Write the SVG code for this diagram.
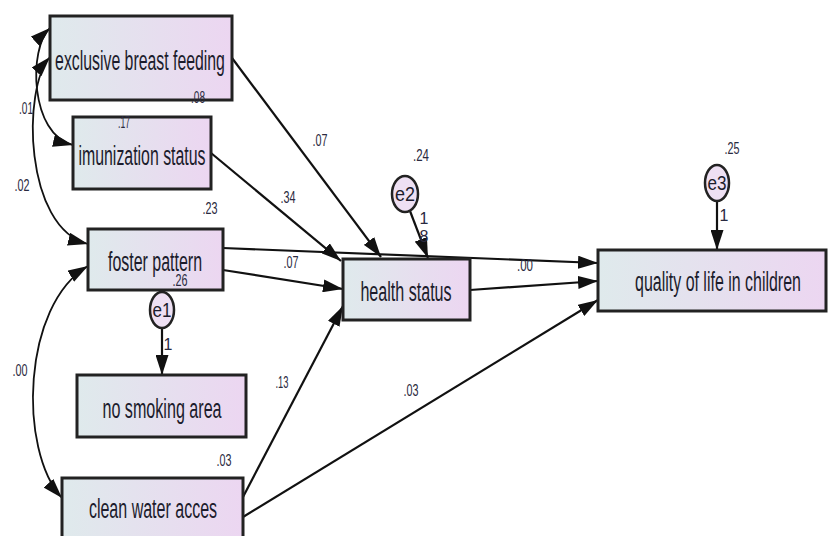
<svg xmlns="http://www.w3.org/2000/svg" width="829" height="536" viewBox="0 0 829 536">
  <defs>
    <linearGradient id="boxFill" x1="0" y1="0" x2="1" y2="0">
      <stop offset="0" stop-color="#dfeaec"/>
      <stop offset="1" stop-color="#ecd6f1"/>
    </linearGradient>
    <marker id="head" viewBox="0 0 20 13" markerWidth="20" markerHeight="13" refX="20" refY="6.5" orient="auto-start-reverse" markerUnits="userSpaceOnUse">
      <path d="M0,0 L20,6.5 L0,13 z" fill="#111"/>
    </marker>
    <style>
      .box { fill: url(#boxFill); stroke: #222; stroke-width: 3; }
      .err { fill: #eee0f3; stroke: #222; stroke-width: 2.5; }
      .lbl { font-family: "Liberation Sans", Arial, sans-serif; font-size: 28px; fill: #1c1c2c; text-anchor: middle; }
      .elbl { font-family: "Liberation Sans", Arial, sans-serif; font-size: 21px; fill: #1c1c2c; text-anchor: middle; }
      .num { font-family: "Liberation Sans", Arial, sans-serif; font-size: 16px; fill: #2a2a40; text-anchor: middle; }
      .edge { fill: none; stroke: #111; stroke-width: 2.2; }
      .cov { fill: none; stroke: #111; stroke-width: 1.8; }
    </style>
  </defs>

  <rect width="829" height="536" fill="#ffffff"/>

  <!-- connectors -->
  <g id="connectors">
    <!-- covariances -->
    <path class="cov" d="M50,28 C28,48 30,135 73,145" marker-start="url(#head)" marker-end="url(#head)"/>
    <path class="cov" d="M50,57 C22,88 24,228 88,244" marker-start="url(#head)" marker-end="url(#head)"/>
    <path class="cov" d="M88,266 C22,305 18,450 62,498" marker-start="url(#head)" marker-end="url(#head)"/>
    <!-- regression paths -->
    <path class="edge" d="M232,58 L381,257" marker-end="url(#head)"/>
    <path class="edge" d="M211,153 L341,261" marker-end="url(#head)"/>
    <path class="edge" d="M223,248 L598,263" marker-end="url(#head)"/>
    <path class="edge" d="M223,270 L343,289" marker-end="url(#head)"/>
    <path class="edge" d="M243,497 L343,306" marker-end="url(#head)"/>
    <path class="edge" d="M243,517 L598,300" marker-end="url(#head)"/>
    <path class="edge" d="M470,290 L598,281" marker-end="url(#head)"/>
    <!-- error terms -->
    <path class="edge" d="M162,328 L162,375" marker-end="url(#head)"/>
    <path class="edge" d="M410,211 L428,258" marker-end="url(#head)"/>
    <path class="edge" d="M717,201 L717,250" marker-end="url(#head)"/>
  </g>

  <!-- path coefficients -->
  <g id="coefficients">
    <text class="num" x="26" y="114" textLength="14" lengthAdjust="spacingAndGlyphs">.01</text>
    <text class="num" x="22" y="191" textLength="15" lengthAdjust="spacingAndGlyphs">.02</text>
    <text class="num" x="20" y="376" textLength="15" lengthAdjust="spacingAndGlyphs">.00</text>
    <text class="num" x="320" y="146" textLength="15" lengthAdjust="spacingAndGlyphs">.07</text>
    <text class="num" x="288" y="203" textLength="15" lengthAdjust="spacingAndGlyphs">.34</text>
    <text class="num" x="291" y="268" textLength="15" lengthAdjust="spacingAndGlyphs">.07</text>
    <text class="num" x="525" y="271" textLength="16" lengthAdjust="spacingAndGlyphs">.00</text>
    <text class="num" x="282" y="388" textLength="13" lengthAdjust="spacingAndGlyphs">.13</text>
    <text class="num" x="411" y="396" textLength="15" lengthAdjust="spacingAndGlyphs">.03</text>
    <text class="num" x="168" y="350">1</text>
    <text class="num" x="424" y="224">1</text>
    <text class="num" x="424" y="242">8</text>
    <text class="num" x="724" y="221">1</text>
  </g>

  <!-- observed variables (labels are horizontally condensed) -->
  <g id="exclusive-breast-feeding">
    <rect class="box" x="50" y="16" width="182" height="84"/>
    <text class="lbl" transform="translate(140,70) scale(0.57,1)" textLength="298" lengthAdjust="spacingAndGlyphs">exclusive breast feeding</text>
    <text class="num" x="198" y="103" textLength="14" lengthAdjust="spacingAndGlyphs">.08</text>
  </g>
  <g id="imunization-status">
    <rect class="box" x="73" y="117" width="138" height="72"/>
    <text class="lbl" transform="translate(142,165) scale(0.57,1)" textLength="223" lengthAdjust="spacingAndGlyphs">imunization status</text>
    <text class="num" x="124" y="128" textLength="12" lengthAdjust="spacingAndGlyphs">.17</text>
  </g>
  <g id="foster-pattern">
    <rect class="box" x="88" y="229" width="135" height="61"/>
    <text class="lbl" transform="translate(155,271) scale(0.57,1)" textLength="165" lengthAdjust="spacingAndGlyphs">foster pattern</text>
    <text class="num" x="210" y="214" textLength="15" lengthAdjust="spacingAndGlyphs">.23</text>
    <text class="num" x="180" y="286" textLength="15" lengthAdjust="spacingAndGlyphs">.26</text>
  </g>
  <g id="no-smoking-area">
    <rect class="box" x="77" y="375" width="169" height="62"/>
    <text class="lbl" transform="translate(162,418) scale(0.57,1)" textLength="209" lengthAdjust="spacingAndGlyphs">no smoking area</text>
  </g>
  <g id="clean-water-acces">
    <rect class="box" x="62" y="478" width="181" height="64"/>
    <text class="lbl" transform="translate(153,518) scale(0.57,1)" textLength="225" lengthAdjust="spacingAndGlyphs">clean water acces</text>
    <text class="num" x="224" y="466" textLength="15" lengthAdjust="spacingAndGlyphs">.03</text>
  </g>
  <g id="health-status">
    <rect class="box" x="343" y="259" width="127" height="61"/>
    <text class="lbl" transform="translate(406,301) scale(0.57,1)" textLength="160" lengthAdjust="spacingAndGlyphs">health status</text>
    <text class="num" x="421" y="161" textLength="16" lengthAdjust="spacingAndGlyphs">.24</text>
  </g>
  <g id="quality-of-life">
    <rect class="box" x="598" y="250" width="228" height="61"/>
    <text class="lbl" transform="translate(718,291) scale(0.57,1)" textLength="291" lengthAdjust="spacingAndGlyphs">quality of life in children</text>
    <text class="num" x="732" y="154" textLength="15" lengthAdjust="spacingAndGlyphs">.25</text>
  </g>

  <!-- error terms -->
  <g id="e1">
    <ellipse class="err" cx="162" cy="310" rx="12" ry="18"/>
    <text class="elbl" x="162" y="317" textLength="19" lengthAdjust="spacingAndGlyphs">e1</text>
  </g>
  <g id="e2">
    <ellipse class="err" cx="405" cy="194" rx="13" ry="18"/>
    <text class="elbl" x="405" y="201" textLength="20" lengthAdjust="spacingAndGlyphs">e2</text>
  </g>
  <g id="e3">
    <ellipse class="err" cx="717" cy="183" rx="12" ry="18"/>
    <text class="elbl" x="717" y="190" textLength="19" lengthAdjust="spacingAndGlyphs">e3</text>
  </g>
</svg>
